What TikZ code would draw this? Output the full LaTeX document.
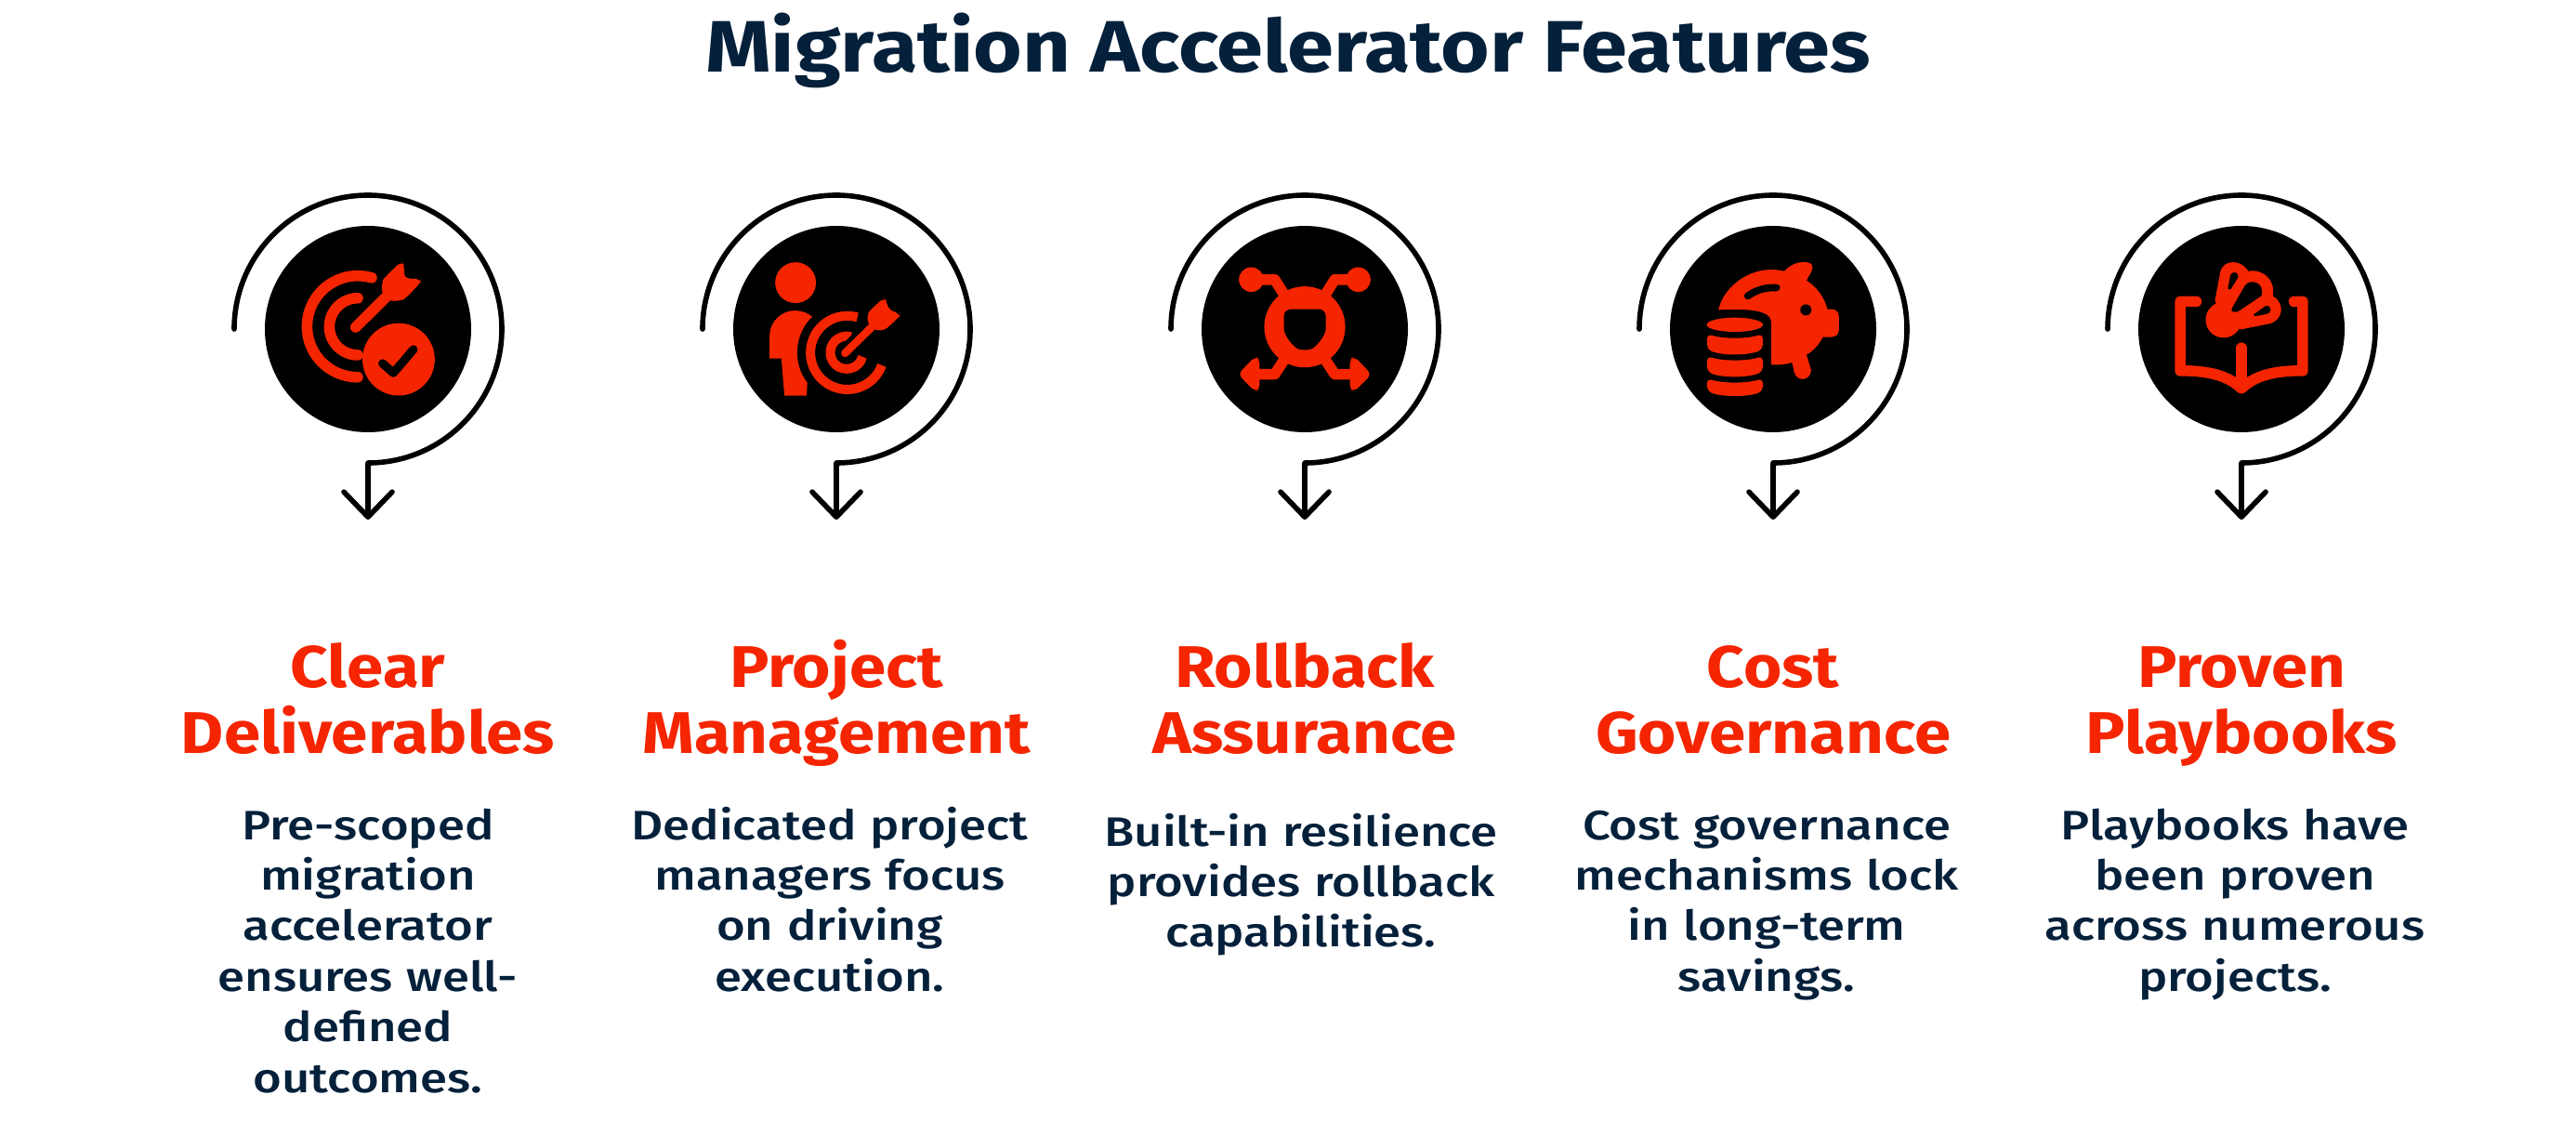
\documentclass[tikz,border=0pt]{standalone}
\usepackage{fontspec}
\setmainfont{Fira Sans}
\newfontfamily\titlefont[FakeStretch=1.15]{Fira Sans Bold}
\newfontfamily\headfont[FakeStretch=1.12]{Fira Sans Bold}
\newfontfamily\bodyfont[FakeStretch=1.19]{Fira Sans Medium}
\usetikzlibrary{arrows.meta}
\definecolor{featred}{HTML}{F42500}
\definecolor{featnavy}{HTML}{04203A}
\tikzset{
  discnode/.style={circle,fill=black,minimum size=2.22cm,inner sep=0pt},
  ringline/.style={line width=1.6pt,line cap=round,line join=round,-{Straight Barb[length=2.7mm,width=5.2mm,round]}},
  titletext/.style={font=\fontsize{22.3}{26}\titlefont,text=featnavy,inner sep=0pt,anchor=base},
  headtext/.style={font=\fontsize{18}{20.2}\headfont,text=featred,text width=5cm,align=center,inner sep=0pt,anchor=base},
  bodytext/.style={font=\fontsize{12.6}{15.48}\bodyfont,text=featnavy,text width=5cm,align=center,inner sep=0pt,anchor=base},
  iconframe/.style 2 args={x=0.003333cm,y=-0.003333cm,shift={(disc#1)},shift={(-#2,-492)}},
  iconline/.style={draw=featred,line width=3.3pt,line cap=round,line join=round},
  iconfill/.style={fill=featred,rounded corners=1.5pt},
  holeline/.style={draw=black,line cap=round,line join=round}
}
\begin{document}
\begin{tikzpicture}
\useasboundingbox (0,0) rectangle (27.72,12.2);

% Title
\node[titletext] (title) at (13.86,11.42) {Migration Accelerator Features};

% Rings
\foreach \i/\x in {1/3.96,2/9.00,3/14.04,4/19.08,5/24.12} {
  \node[discnode] (disc\i) at (\x,8.66) {};
  \coordinate (tip\i) at (\x,6.61);
  \draw[ringline] (disc\i) ++(-1.44,0) arc[start angle=180,end angle=-90,radius=1.44] -- (tip\i);
}

% Clear Deliverables
\begin{scope}[iconframe={1}{528}]
\draw[iconline] (540,326) arc[start angle=-74,end angle=-270,radius=164];
\draw[iconline] (495,392) arc[start angle=-90,end angle=-270,radius=92];
\draw[iconline] (488,486) -- (600,375);
\fill[iconfill] (573,378) -- (573,340) -- (582,325) -- (636,273) -- (645,285) -- (645,328) -- (700,330) -- (698,342) -- (650,392) -- (635,400) -- (597,402) -- cycle;
\fill[featred] (627,590) circle (117);
\draw[holeline,line width=2.6pt] (575,603) -- (610,634) -- (675,558);
\end{scope}

% Project Management
\begin{scope}[iconframe={2}{510}]
\fill[featred] (378,342) circle (66);
\fill[featred] (294,587) -- (294,515) .. controls (294,465) and (335,432) .. (375,432) .. controls (398,432) and (418,440) .. (432,452) .. controls (370,510) and (370,610) .. (416,665) -- (414,707) -- (342,707) -- (332,587) -- cycle;
\draw[featred,line width=2.85pt] (578,454) arc[start angle=-74,end angle=-340,radius=119];
\draw[featred,line width=2.85pt] (558,517) arc[start angle=-74,end angle=-345,radius=53];
\draw[black,line width=5.5pt] (540,572) -- (625,487);
\draw[featred,line width=2.4pt,line cap=round] (538,570) -- (625,485);
\fill[iconfill] (612,475) -- (610,440) -- (664,390) -- (670,398) -- (680,430) -- (716,442) -- (714,452) -- (665,497) -- (630,495) -- cycle;
\end{scope}

% Rollback Assurance
\begin{scope}[iconframe={3}{522}]
\foreach \m in {1,-1} {
  \begin{scope}[xshift=522*0.003333cm,xscale=\m,xshift=-522*0.003333cm]
  \draw[iconline] (455,380) -- (425,332) -- (350,332);
  \fill[featred] (349,332) circle (40);
  \draw[iconline] (455,592) -- (425,638) -- (370,638);
  \fill[iconfill] (376,590) -- (362,580) -- (306,638) -- (362,695) -- (376,685) -- cycle;
  \end{scope}
}
\fill[featred] (522,485) circle (131);
\fill[black,rounded corners=2pt] (455,428) -- (590,428) -- (590,470) .. controls (590,515) and (555,553) .. (522,563) .. controls (489,553) and (455,515) .. (455,470) -- cycle;
\end{scope}

% Cost Governance
\begin{scope}[iconframe={4}{504}]
\fill[featred] (327,430) .. controls (345,350) and (440,280) .. (540,305) .. controls (565,275) and (610,268) .. (628,282) .. controls (638,295) and (625,310) .. (612,335) .. controls (645,355) and (670,390) .. (680,428) -- (695,428) .. controls (710,428) and (717,440) .. (717,455) -- (717,495) .. controls (717,510) and (705,518) .. (690,518) -- (665,518) .. controls (650,545) and (635,562) .. (612,575) -- (627,625) .. controls (625,660) and (580,665) .. (572,630) -- (565,600) .. controls (540,608) and (520,608) .. (498,607) -- (498,470) .. controls (498,430) and (420,425) .. (327,430) -- cycle;
\draw[holeline,line width=2.2pt] (422,385) .. controls (450,365) and (480,357) .. (515,358);
\fill[black] (610,430) circle (18);
\fill[featred] (380,478) ellipse (91 and 23);
\foreach \k in {0,72} {
  \fill[iconfill,yshift=\k*-0.003333cm] (290,507) .. controls (340,524) and (420,524) .. (471,507) -- (471,558) .. controls (420,578) and (340,578) .. (290,558) -- cycle;
}
\fill[iconfill] (290,651) .. controls (340,668) and (420,668) .. (471,651) -- (471,693) .. controls (420,712) and (340,712) .. (290,693) -- cycle;
\end{scope}

% Proven Playbooks
\begin{scope}[iconframe={5}{516}]
\draw[iconline] (370,403) -- (318,403) -- (318,627) -- (345,627) .. controls (420,630) and (475,645) .. (516,684) .. controls (557,645) and (612,630) .. (687,627) -- (714,627) -- (714,403) -- (686,403);
\draw[iconline] (516,553) -- (516,680);
\fill[featred] (458,462) circle (58);
\fill[featred] (430,400) -- (447,310) .. controls (455,265) and (515,265) .. (538,305) .. controls (590,295) and (628,340) .. (617,385) .. controls (660,410) and (650,465) .. (605,475) -- (515,493) -- (470,480) -- cycle;
\fill[black] (485,425) -- (525,355) .. controls (540,325) and (595,340) .. (580,385) -- (505,435) .. controls (490,440) and (480,435) .. (485,425) -- cycle;
\fill[black] (472,360) -- (480,318) .. controls (485,302) and (510,308) .. (505,325) -- (482,362) .. controls (478,366) and (472,365) .. (472,360) -- cycle;
\fill[black] (555,445) -- (593,418) .. controls (605,410) and (618,430) .. (605,440) .. controls (590,446) and (575,448) .. (560,450) -- cycle;
\end{scope}

% Headings
\node[headtext] (head1) at (3.96,4.81) {Clear\\Deliverables};
\node[headtext] (head2) at (9.00,4.81) {Project\\Management};
\node[headtext] (head3) at (14.04,4.81) {Rollback\\Assurance};
\node[headtext] (head4) at (19.08,4.81) {Cost\\Governance};
\node[headtext] (head5) at (24.12,4.81) {Proven\\Playbooks};

% Descriptions
\node[bodytext] (body1) at (3.96,3.17) {Pre-scoped\\migration\\accelerator\\ensures well-\\defined\\outcomes.};
\node[bodytext] (body2) at (8.93,3.17) {Dedicated project\\managers focus\\on driving\\execution.};
\node[bodytext] (body3) at (14.00,3.10) {Built-in resilience\\provides rollback\\capabilities.};
\node[bodytext] (body4) at (19.01,3.17) {Cost governance\\mechanisms lock\\in long-term\\savings.};
\node[bodytext] (body5) at (24.05,3.17) {Playbooks have\\been proven\\across numerous\\projects.};
\end{tikzpicture}
\end{document}
